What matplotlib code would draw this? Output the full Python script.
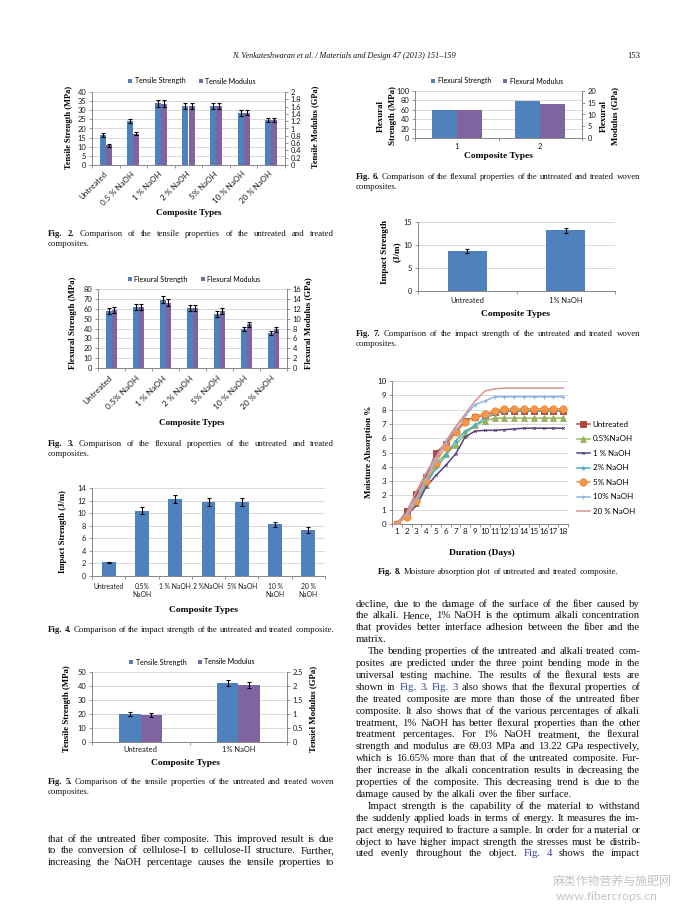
import numpy as np
import matplotlib
matplotlib.use('Agg')
import matplotlib.pyplot as plt
from matplotlib.patches import Patch
from matplotlib.lines import Line2D
from matplotlib.ticker import FuncFormatter

# ------------------------------------------------------------------ data
f2_types = ["Untreated", "0.5 % NaOH", "1 % NaOH", "2 % NaOH", "5% NaOH", "10 % NaOH", "20 % NaOH"]
f2_strength = [16.4, 24.0, 33.7, 32.4, 32.4, 28.5, 24.5]
f2_strength_err = [1.0, 1.2, 1.9, 1.6, 1.6, 1.4, 1.2]
f2_modulus = [0.54, 0.86, 1.68, 1.62, 1.62, 1.43, 1.23]
f2_modulus_err = [0.04, 0.05, 0.09, 0.08, 0.08, 0.07, 0.06]

f3_types = ["Untreated", "0.5% NaOH", "1 % NaOH", "2 % NaOH", "5% NaOH", "10 % NaOH", "20 % NaOH"]
f3_strength = [57.5, 62.0, 69.0, 60.8, 55.0, 39.5, 35.5]
f3_strength_err = [3.0, 3.0, 3.5, 3.0, 3.0, 2.5, 2.0]
f3_modulus = [11.8, 12.3, 13.2, 12.2, 11.5, 8.9, 7.8]
f3_modulus_err = [0.6, 0.6, 0.7, 0.6, 0.6, 0.5, 0.5]

f4_types = ["Untreated", "0.5%\nNaOH", "1 % NaOH", "2 %NaOH", "5% NaOH", "10 %\nNaOH", "20 %\nNaOH"]
f4_impact = [2.2, 10.4, 12.2, 11.8, 11.8, 8.2, 7.3]
f4_impact_err = [0.1, 0.6, 0.65, 0.6, 0.6, 0.45, 0.45]

f5_types = ["Untreated", "1% NaOH"]
f5_strength = [20.0, 42.0]
f5_strength_err = [1.2, 2.3]
f5_modulus = [0.96, 2.03]
f5_modulus_err = [0.06, 0.11]

f6_types = ["1", "2"]
f6_strength = [59.0, 79.0]
f6_modulus = [11.8, 14.6]

f7_types = ["Untreated", "1% NaOH"]
f7_impact = [8.7, 13.2]
f7_impact_err = [0.45, 0.6]

f8_days = list(range(1, 19))
f8_untreated = [0, 0.9, 2.1, 3.3, 5.0, 5.6, 6.5, 7.2, 7.5, 7.6, 7.85, 7.9, 7.9, 7.9, 7.9, 7.9, 7.9, 7.9]
f8_naoh05 = [0, 0.6, 1.5, 2.7, 4.2, 4.9, 5.5, 6.3, 6.9, 7.2, 7.4, 7.4, 7.4, 7.4, 7.4, 7.4, 7.4, 7.4]
f8_naoh1 = [0, 0.6, 1.3, 2.6, 3.4, 4.1, 4.9, 6.1, 6.5, 6.55, 6.55, 6.6, 6.65, 6.7, 6.7, 6.7, 6.7, 6.7]
f8_naoh2 = [0, 0.6, 1.5, 2.8, 3.9, 4.8, 5.8, 6.5, 6.9, 7.4, 7.7, 7.85, 7.9, 7.9, 7.9, 7.9, 7.9, 7.9]
f8_naoh5 = [0, 0.5, 1.6, 3.0, 4.3, 5.4, 6.4, 7.1, 7.5, 7.7, 7.9, 8.05, 8.05, 8.05, 8.05, 8.05, 8.05, 8.05]
f8_naoh10 = [0, 0.7, 1.8, 3.2, 4.5, 5.7, 6.7, 7.6, 8.35, 8.6, 8.9, 8.9, 8.9, 8.9, 8.9, 8.9, 8.9, 8.9]
f8_naoh20 = [0, 0.8, 2.3, 3.6, 4.7, 5.8, 6.8, 7.7, 8.6, 9.3, 9.45, 9.5, 9.5, 9.5, 9.5, 9.5, 9.5, 9.5]
f8_labels = ["Untreated", "0.5%NaOH", "1 % NaOH", "2% NaOH", "5% NaOH", "10% NaOH", "20 % NaOH"]

# ------------------------------------------------------------------ style
plt.rcParams['font.family'] = ['Lato', 'DejaVu Sans']
SERIF = 'Liberation Serif'
BLUE, PURPLE = '#4F81BD', '#8064A2'
GRID, AXC = '#D9D9D9', '#868686'
TC = '#1a1a1a'
TXT = '#111111'
LINK = '#2E3A97'
TS = 5.4

W, H = 678, 905
fig = plt.figure(figsize=(W / 100, H / 100), dpi=100)
fig.patch.set_facecolor('white')
renderer = fig.canvas.get_renderer()


def px_ax(l, t, r, b):
    return fig.add_axes([l / W, 1 - b / H, (r - l) / W, (b - t) / H])


def ftext(x, y, s, **kw):
    return fig.text(x / W, 1 - y / H, s, **kw)


fmt = FuncFormatter(lambda v, p: f'{v:g}')


def style_left(ax, ymax, step, ts=TS):
    ax.set_ylim(0, ymax)
    ax.set_yticks(np.arange(0, ymax + step / 2, step))
    ax.yaxis.set_major_formatter(fmt)
    ax.yaxis.grid(True, color=GRID, linewidth=0.7)
    ax.set_axisbelow(True)
    for s in ('top', 'right'):
        ax.spines[s].set_visible(False)
    for s in ('left', 'bottom'):
        ax.spines[s].set_color(AXC)
        ax.spines[s].set_linewidth(0.7)
    ax.tick_params(axis='y', length=2.5, width=0.6, color=AXC, labelsize=ts, pad=1.5, labelcolor=TC)
    ax.set_facecolor('none')


def style_right(ax2, ymax, step):
    ax2.set_ylim(0, ymax)
    ax2.set_yticks(np.arange(0, ymax + step / 2, step))
    ax2.yaxis.set_major_formatter(fmt)
    for s in ('top', 'left', 'bottom'):
        ax2.spines[s].set_visible(False)
    ax2.spines['right'].set_color(AXC)
    ax2.spines['right'].set_linewidth(0.7)
    ax2.tick_params(axis='y', length=2.5, width=0.6, color=AXC, labelsize=TS, pad=1.5, labelcolor=TC)


def style_cat(ax, labels, rot=False, pad=2.0, ts=TS):
    n = len(labels)
    ax.set_xlim(-0.5, n - 0.5)
    ax.set_xticks(np.arange(n))
    ax.set_xticklabels(labels)
    ax.set_xticks(np.arange(-0.5, n), minor=True)
    ax.tick_params(axis='x', which='major', length=0, labelsize=ts, pad=pad, labelcolor=TC)
    ax.tick_params(axis='x', which='minor', length=2.5, width=0.6, color=AXC)
    if rot:
        for lab in ax.get_xticklabels():
            lab.set_rotation(45)
            lab.set_ha('right')
            lab.set_va('center')
            lab.set_rotation_mode('anchor')


EB = dict(fmt='none', ecolor='black', elinewidth=0.8, capsize=1.6, capthick=0.8)


def bar_legend(labels, cx, cy, colspace=1.9):
    fig.legend(handles=[Patch(facecolor=BLUE), Patch(facecolor=PURPLE)], labels=labels,
               ncol=2, loc='center', bbox_to_anchor=(cx / W, 1 - cy / H),
               bbox_transform=fig.transFigure, frameon=False, fontsize=5.0,
               handlelength=0.6, handleheight=0.6, handletextpad=0.35,
               columnspacing=colspace, borderpad=0, borderaxespad=0)


def title(x, y, s, rot=0, size=6.2):
    ftext(x, y, s, rotation=rot, ha='center', va='center', family=SERIF,
          fontweight='bold', fontsize=size, color='black')


def twin_bars(ax, types, s1, e1, s2, e2, w):
    x = np.arange(len(types))
    ax.bar(x - w / 2, s1, w, color=BLUE, zorder=2)
    if e1 is not None:
        ax.errorbar(x - w / 2, s1, yerr=e1, zorder=3, **EB)
    ax2 = ax.twinx()
    ax2.bar(x + w / 2, s2, w, color=PURPLE, zorder=2)
    if e2 is not None:
        ax2.errorbar(x + w / 2, s2, yerr=e2, zorder=3, **EB)
    return ax2


# ------------------------------------------------------------------ Fig 2
ax = px_ax(92, 92, 285, 165)
ax2 = twin_bars(ax, f2_types, f2_strength, f2_strength_err, f2_modulus, f2_modulus_err, 0.22)
style_left(ax, 40, 5)
style_right(ax2, 2, 0.2)
style_cat(ax, f2_types, rot=True, pad=5.5, ts=5.8)
bar_legend(["Tensile Strength", "Tensile Modulus"], 192, 81)
title(69, 127, "Tensile Strength (MPa)", rot=90, size=6.0)
title(315, 127, "Tensile Modulus (GPa)", rot=90, size=6.0)
title(189, 213, "Composite Types", size=6.5)

# ------------------------------------------------------------------ Fig 3
ax = px_ax(98, 289, 287, 368)
ax2 = twin_bars(ax, f3_types, f3_strength, f3_strength_err, f3_modulus, f3_modulus_err, 0.22)
style_left(ax, 80, 10)
style_right(ax2, 16, 2)
style_cat(ax, f3_types, rot=True, pad=6.5, ts=6.0)
bar_legend(["Flexural Strength", "Flexural Modulus"], 194, 279)
title(73, 323, "Flexural Strength (MPa)", rot=90, size=6.3)
title(308, 323, "Flexural Modulus (GPa)", rot=90, size=6.3)
title(192, 423, "Composite Types", size=6.5)

# ------------------------------------------------------------------ Fig 4
ax = px_ax(92, 488, 325, 576)
x4 = np.arange(len(f4_types))
ax.bar(x4, f4_impact, 0.42, color=BLUE, zorder=2)
ax.errorbar(x4, f4_impact, yerr=f4_impact_err, zorder=3, **EB)
style_left(ax, 14, 2)
style_cat(ax, f4_types, pad=5.0, ts=4.9)
title(63, 532, "Impact Strength (J/m)", rot=90, size=6.3)
title(203, 610, "Composite Types", size=6.8)

# ------------------------------------------------------------------ Fig 5
ax = px_ax(92, 672, 287, 742)
ax2 = twin_bars(ax, f5_types, f5_strength, f5_strength_err, f5_modulus, f5_modulus_err, 0.22)
style_left(ax, 50, 10)
style_right(ax2, 2.5, 0.5)
style_cat(ax, f5_types, pad=3.0)
bar_legend(["Tensile Strength", "Tensile Modulus"], 192, 662, colspace=1.6)
title(67, 709, "Tensile Strength (MPa)", rot=90, size=6.3)
title(313, 709, "Tensiel Modulus (GPa)", rot=90, size=6.3)
title(185, 763, "Composite Types", size=6.8)

# ------------------------------------------------------------------ Fig 6
ax = px_ax(415, 91, 582, 138)
ax2 = twin_bars(ax, f6_types, f6_strength, None, f6_modulus, None, 0.3)
style_left(ax, 100, 20)
style_right(ax2, 20, 5)
style_cat(ax, f6_types, pad=3.5)
bar_legend(["Flexural Strength", "Flexural Modulus"], 497, 81, colspace=1.7)
title(381, 116, "Flexural", rot=90, size=6.4)
title(393, 116, "Strength (MPa)", rot=90, size=6.4)
title(604, 116, "Flexural", rot=90, size=6.4)
title(615, 116, "Modulus (GPa)", rot=90, size=6.4)
title(498, 156, "Composite Types", size=6.8)

# ------------------------------------------------------------------ Fig 7
ax = px_ax(418, 222, 615, 291)
x7 = np.arange(len(f7_types))
ax.bar(x7, f7_impact, 0.4, color=BLUE, zorder=2)
ax.errorbar(x7, f7_impact, yerr=f7_impact_err, zorder=3, **EB)
style_left(ax, 15, 5)
style_cat(ax, f7_types, pad=4.0)
title(385, 252, "Impact Strength", rot=90, size=6.6)
title(397, 252, "(J/m)", rot=90, size=6.6)
title(515, 314, "Composite Types", size=6.8)

# ------------------------------------------------------------------ Fig 8
ax = px_ax(392, 381, 568, 524)
series = [f8_untreated, f8_naoh05, f8_naoh1, f8_naoh2, f8_naoh5, f8_naoh10, f8_naoh20]
styles = [
    dict(color='#C0504D', marker='s', ms=4.8, mfc='#B8433F', mec='#8C3330', mew=0.5),
    dict(color='#9BBB59', marker='^', ms=4.4, mfc='#9BBB59', mec='#7E9A45', mew=0.4),
    dict(color='#57407F', marker='x', ms=1.8, mew=0.6),
    dict(color='#4BACC6', marker='*', ms=3.0, mew=0.4),
    dict(color='#F79646', marker='o', ms=5.4, mfc='#F79646', mec='#E07B2C', mew=0.4),
    dict(color='#8EB4E3', marker='+', ms=3.4, mew=0.7),
    dict(color='#D99694', marker=None),
]
handles = []
for vals, st, lab in zip(series, styles, f8_labels):
    ln, = ax.plot(f8_days, vals, lw=1.1, label=lab, zorder=3, **st)
    handles.append(ln)
style_left(ax, 10, 1, ts=5.8)
ax.set_xlim(0.5, 18.5)
ax.set_xticks(f8_days)
ax.set_xticks(np.arange(0.5, 19), minor=True)
ax.tick_params(axis='x', which='major', length=0, labelsize=5.8, pad=3.0, labelcolor=TC)
ax.tick_params(axis='x', which='minor', length=2.5, width=0.6, color=AXC)
fig.legend(handles=handles, labels=f8_labels, loc='upper left',
           bbox_to_anchor=(577 / W, 1 - 421 / H), bbox_transform=fig.transFigure,
           frameon=False, fontsize=5.8, handlelength=1.6, handletextpad=0.35,
           labelspacing=0.93, borderpad=0, borderaxespad=0)
title(369, 452, "Moisture Absorption %", rot=90, size=6.6)
title(482, 553, "Duration (Days)", size=6.8)

# ------------------------------------------------------------------ text helpers
_cache = {}


def tw(s, size, weight='normal', style='normal'):
    key = (s, size, weight, style)
    if key not in _cache:
        t = fig.text(0, 0, s, fontsize=size, fontweight=weight, fontstyle=style, family=SERIF)
        _cache[key] = t.get_window_extent(renderer).width
        t.remove()
    return _cache[key]


def draw_line(text, x0, x1, y, size, justify=True, indent=0, center=False, style='normal'):
    words = []
    for tok in text.split(' '):
        weight, col = 'normal', TXT
        if tok.startswith('*'):
            weight, tok = 'bold', tok[1:]
        if tok.startswith('@'):
            col, tok = LINK, tok[1:]
        words.append((tok, weight, col))
    start = x0 + indent
    avail = x1 - start
    sz = size
    while True:
        widths = [tw(w, sz, wt, style) for w, wt, c in words]
        space = tw('a a', sz, style=style) - tw('aa', sz, style=style)
        nat = sum(widths) + 0.7 * space * (len(words) - 1)
        if (not justify) or nat <= avail or sz < size * 0.85:
            break
        sz = round(sz - 0.1, 2)
    if justify and len(words) > 1:
        gap = (avail - sum(widths)) / (len(words) - 1)
    else:
        gap = space
    total = sum(widths) + gap * (len(words) - 1)
    if center:
        start = (x0 + x1) / 2 - total / 2
    x = start
    for (w, wt, c), wd in zip(words, widths):
        ftext(x, y, w, fontsize=sz, fontweight=wt, color=c, family=SERIF,
              fontstyle=style, va='center', ha='left')
        x += wd + gap


# header
ftext(232, 56, "N. Venkateshwaran et al. / Materials and Design 47 (2013) 151\u2013159",
      family=SERIF, fontstyle='italic', fontsize=5.9, color=TXT, va='center', ha='left')
ftext(640, 56, "153", family=SERIF, fontsize=6.2, color=TXT, va='center', ha='right')

# captions
CS = 6.3
captions = [
    (["*Fig. *2. Comparison of the tensile properties of the untreated and treated", "composites."], 48, 334, 234, False),
    (["*Fig. *3. Comparison of the flexural properties of the untreated and treated", "composites."], 48, 334, 444, False),
    (["*Fig. *4. Comparison of the impact strength of the untreated and treated composite."], 48, 334, 630, False),
    (["*Fig. *5. Comparison of the tensile properties of the untreated and treated woven", "composites."], 48, 334, 782, False),
    (["*Fig. *6. Comparison of the flexural properties of the untreated and treated woven", "composites."], 356, 640, 177, False),
    (["*Fig. *7. Comparison of the impact strength of the untreated and treated woven", "composites."], 356, 640, 334, False),
    (["*Fig. *8. Moisture absorption plot of untreated and treated composite."], 356, 640, 572, True),
]
for lines, x0, x1, y0, cen in captions:
    for i, ln in enumerate(lines):
        last = (i == len(lines) - 1) and len(lines) > 1
        draw_line(ln, x0, x1, y0 + 10 * i, CS, justify=(not last and not cen), center=cen)

# body text
BS = 7.7
right_lines = [
    ("decline, due to the damage of the surface of the fiber caused by", True, 0),
    ("the alkali. Hence, 1% NaOH is the optimum alkali concentration", True, 0),
    ("that provides better interface adhesion between the fiber and the", True, 0),
    ("matrix.", False, 0),
    ("The bending properties of the untreated and alkali treated com-", True, 12),
    ("posites are predicted under the three point bending mode in the", True, 0),
    ("universal testing machine. The results of the flexural tests are", True, 0),
    ("shown in @Fig. @3. @Fig. @3 also shows that the flexural properties of", True, 0),
    ("the treated composite are more than those of the untreated fiber", True, 0),
    ("composite. It also shows that of the various percentages of alkali", True, 0),
    ("treatment, 1% NaOH has better flexural properties than the other", True, 0),
    ("treatment percentages. For 1% NaOH treatment, the flexural", True, 0),
    ("strength and modulus are 69.03 MPa and 13.22 GPa respectively,", True, 0),
    ("which is 16.65% more than that of the untreated composite. Fur-", True, 0),
    ("ther increase in the alkali concentration results in decreasing the", True, 0),
    ("properties of the composite. This decreasing trend is due to the", True, 0),
    ("damage caused by the alkali over the fiber surface.", False, 0),
    ("Impact strength is the capability of the material to withstand", True, 12),
    ("the suddenly applied loads in terms of energy. It measures the im-", True, 0),
    ("pact energy required to fracture a sample. In order for a material or", True, 0),
    ("object to have higher impact strength the stresses must be distrib-", True, 0),
    ("uted evenly throughout the object. @Fig. @4 shows the impact", True, 0),
]
for i, (ln, just, ind) in enumerate(right_lines):
    draw_line(ln, 356, 640, 604 + 11.9 * i, BS, justify=just, indent=ind)

left_lines = [
    "that of the untreated fiber composite. This improved result is due",
    "to the conversion of cellulose-I to cellulose-II structure. Further,",
    "increasing the NaOH percentage causes the tensile properties to",
]
for i, ln in enumerate(left_lines):
    draw_line(ln, 48, 334, 839 + 11.9 * i, BS, justify=True)

# watermark
ftext(553, 881, "麻类作物营养与施肥网", family=['Noto Sans CJK SC', 'DejaVu Sans'],
      fontsize=8.6, color='#C4C4C4', va='center', ha='left')
ftext(556, 896, "www.fibercrops.cn", family=['Lato', 'DejaVu Sans'],
      fontsize=8.8, color='#C4C4C4', va='center', ha='left')

fig.savefig('out.png', dpi=100, facecolor='white')
